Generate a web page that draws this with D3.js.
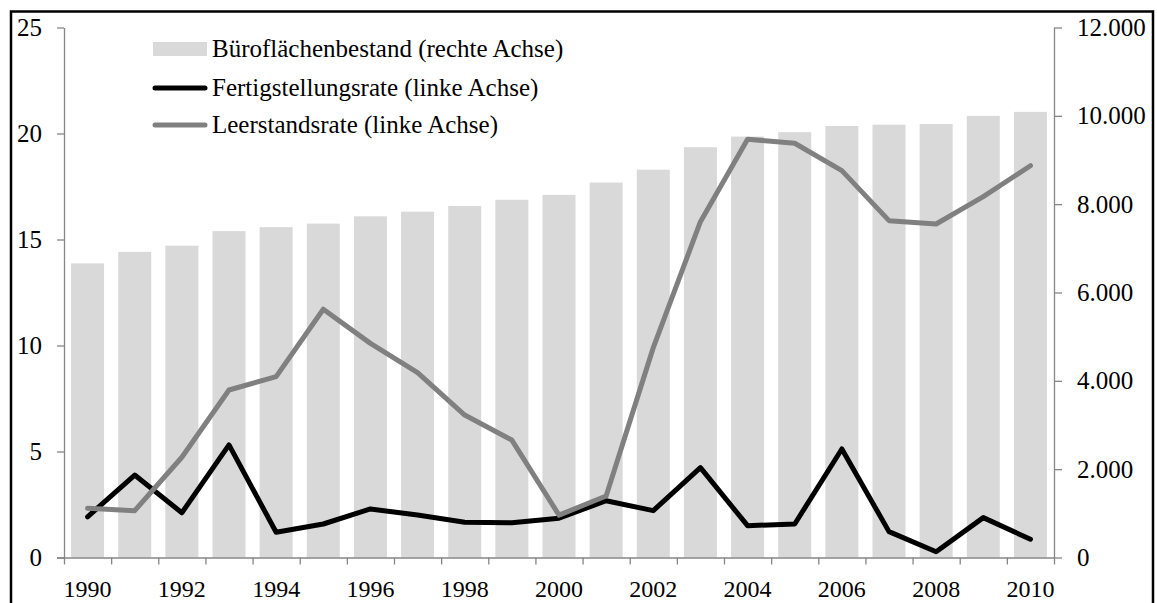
<!DOCTYPE html>
<html>
<head>
<meta charset="utf-8">
<script src="https://cdn.jsdelivr.net/npm/d3@7/dist/d3.min.js"></script>
<style>
  html, body { margin: 0; padding: 0; background: #fff; }
  svg { display: block; }
  text { font-family: "Liberation Serif", "Times New Roman", serif; fill: #000; }
</style>
</head>
<body>
<svg id="chart" width="1157" height="603"></svg>
<script>
const years = [1990,1991,1992,1993,1994,1995,1996,1997,1998,1999,2000,2001,2002,2003,2004,2005,2006,2007,2008,2009,2010];
const yearLabels = ["1990","1992","1994","1996","1998","2000","2002","2004","2006","2008","2010"];
// Büroflächenbestand (rechte Achse)
const bestand = [6660, 6920, 7060, 7390, 7480, 7560, 7725, 7830, 7960, 8100, 8210, 8490, 8780, 9290, 9530, 9630, 9770, 9800, 9815, 10000, 10090];
// Fertigstellungsrate (linke Achse)
const fertig = [1.92, 3.89, 2.11, 5.31, 1.19, 1.58, 2.29, 2.00, 1.66, 1.64, 1.85, 2.68, 2.21, 4.24, 1.50, 1.58, 5.12, 1.22, 0.27, 1.88, 0.86];
// Leerstandsrate (linke Achse)
const leer = [2.32, 2.21, 4.73, 7.90, 8.53, 11.71, 10.10, 8.72, 6.72, 5.54, 2.00, 2.90, 9.90, 15.84, 19.73, 19.54, 18.25, 15.89, 15.73, 17.02, 18.48];
const leftTicks = [0, 5, 10, 15, 20, 25];
const rightTicks = [0, 2000, 4000, 6000, 8000, 10000, 12000];
const legendLabels = ["Büroflächenbestand (rechte Achse)", "Fertigstellungsrate (linke Achse)", "Leerstandsrate (linke Achse)"];

const svg = d3.select("#chart");
const L = 64, R = 1054, T = 27.5, B = 557.5;
const FS = 25;
const axisColor = "#868686";

// outer frame
svg.append("rect").attr("x", 11).attr("y", 11.5).attr("width", 1142).attr("height", 620)
  .attr("fill", "none").attr("stroke", "#000").attr("stroke-width", 2.5);

const x = d3.scaleBand().domain(years).range([L, R]).paddingInner(0.3).paddingOuter(0.15);
const xi = d3.scaleLinear().domain([0, years.length]).range([L, R]);
const yL = d3.scaleLinear().domain([0, 25]).range([B, T]);
const yR = d3.scaleLinear().domain([0, 12000]).range([B, T]);

// bars
svg.append("g").selectAll("rect").data(years).join("rect")
  .attr("x", d => x(d)).attr("width", x.bandwidth())
  .attr("y", (d, i) => yR(bestand[i])).attr("height", (d, i) => B - yR(bestand[i]))
  .attr("fill", "#d9d9d9");

function styleAxis(g) {
  g.selectAll(".domain").attr("stroke", axisColor).attr("stroke-width", 1.3);
  g.selectAll(".tick line").attr("stroke", axisColor).attr("stroke-width", 1.3);
  g.selectAll("text").attr("font-size", FS).attr("font-family", "Liberation Serif").attr("fill", "#000");
}

// left axis
const gl = svg.append("g").attr("transform", `translate(${L},0)`)
  .call(d3.axisLeft(yL).tickValues(leftTicks).tickSize(7).tickPadding(15).tickSizeOuter(0).tickFormat(d3.format("d")));
styleAxis(gl);

// right axis
const fmtR = d => d3.format(",")(d).replace(/,/g, ".");
const gr = svg.append("g").attr("transform", `translate(${R},0)`)
  .call(d3.axisRight(yR).tickValues(rightTicks).tickSize(8).tickPadding(15).tickSizeOuter(0).tickFormat(fmtR));
styleAxis(gr);

// bottom axis: boundary ticks
const gb = svg.append("g").attr("transform", `translate(0,${B})`)
  .call(d3.axisBottom(xi).tickValues(d3.range(years.length + 1)).tickSize(7).tickSizeOuter(0).tickFormat(""));
styleAxis(gb);
gb.select(".domain").attr("d", `M${L - 7},0.5H${R}`);

// bottom labels
const gbl = svg.append("g").attr("transform", `translate(0,${B})`)
  .call(d3.axisBottom(x).tickValues(yearLabels.map(Number)).tickSize(0).tickPadding(0));
gbl.select(".domain").remove();
gbl.selectAll("text").attr("font-size", 24).attr("font-family", "Liberation Serif").attr("y", 39).attr("dy", 0);

// lines
const lineL = d3.line().x((d, i) => x(years[i]) + x.bandwidth() / 2).y(d => yL(d));
svg.append("path").datum(fertig).attr("d", lineL)
  .attr("fill", "none").attr("stroke", "#000").attr("stroke-width", 5)
  .attr("stroke-linejoin", "round").attr("stroke-linecap", "round");
svg.append("path").datum(leer).attr("d", lineL)
  .attr("fill", "none").attr("stroke", "#808080").attr("stroke-width", 5)
  .attr("stroke-linejoin", "round").attr("stroke-linecap", "round");

// legend
const lg = svg.append("g");
const rowsY = [49, 88, 125];
lg.append("rect").attr("x", 153).attr("y", rowsY[0] - 7).attr("width", 54).attr("height", 14).attr("fill", "#d9d9d9");
lg.append("line").attr("x1", 155).attr("x2", 205).attr("y1", rowsY[1]).attr("y2", rowsY[1])
  .attr("stroke", "#000").attr("stroke-width", 5).attr("stroke-linecap", "round");
lg.append("line").attr("x1", 155).attr("x2", 205).attr("y1", rowsY[2]).attr("y2", rowsY[2])
  .attr("stroke", "#808080").attr("stroke-width", 5).attr("stroke-linecap", "round");
lg.selectAll("text.leg").data(legendLabels).join("text").attr("class", "leg")
  .attr("x", 212).attr("y", (d, i) => rowsY[i]).attr("dy", "0.33em")
  .attr("font-size", FS).text(d => d);
</script>
</body>
</html>
